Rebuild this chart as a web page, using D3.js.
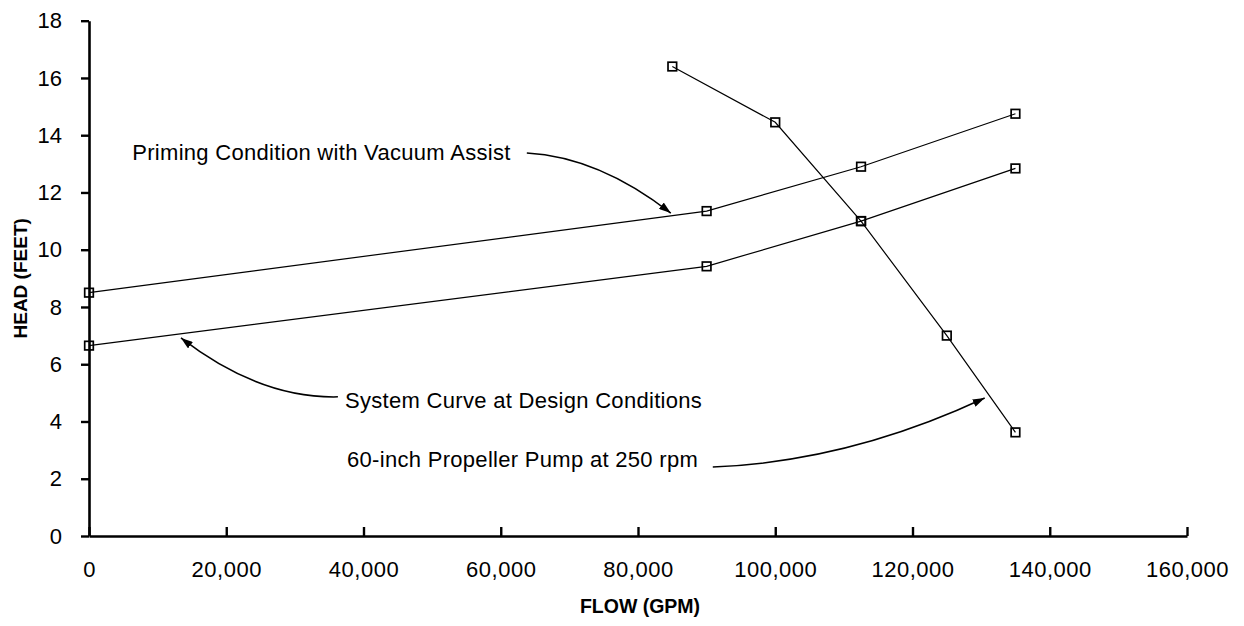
<!DOCTYPE html>
<html>
<head>
<meta charset="utf-8">
<script src="https://cdn.jsdelivr.net/npm/d3@7"></script>
<style>
  body { margin: 0; background: #fff; }
  text { font-family: "Liberation Sans", Arial, sans-serif; fill: #000; }
</style>
</head>
<body>
<div class="canvas"></div>
<script>
// series: flow (gpm) and head (feet)
const pumpFlow = [85000, 100000, 112500, 125000, 135000];
const pumpHead = [16.4, 14.45, 11.0, 7.0, 3.62];
const primingFlow = [0, 90000, 112500, 135000];
const primingHead = [8.5, 11.35, 12.9, 14.75];
const systemFlow = [0, 90000, 112500, 135000];
const systemHead = [6.65, 9.42, 11.0, 12.84];

const xTicks = [0, 20000, 40000, 60000, 80000, 100000, 120000, 140000, 160000];
const yTicks = [0, 2, 4, 6, 8, 10, 12, 14, 16, 18];

// callout labels, in data units: text start, arrow start / bend / tip
const noteText = ['Priming Condition with Vacuum Assist', 'System Curve at Design Conditions', '60-inch Propeller Pump at 250 rpm'];
const noteAt = [[6300, 13.13], [37300, 4.47], [37600, 2.41]];
const arrowFrom = [[63800, 13.38], [36270, 4.86], [90900, 2.41]];
const arrowBend = [[74290, 13.24], [24840, 4.80], [110710, 2.60]];
const arrowTo = [[84780, 11.28], [13400, 6.92], [130520, 4.82]];

function drawGraph() {
  const margin = { top: 20.7, right: 57, bottom: 90, left: 89 };
  const graphWidth = 1244 - margin.left - margin.right;
  const graphHeight = 626 - margin.top - margin.bottom;

  const svg = d3.select('.canvas')
    .append('svg')
    .attr('width', 1244)
    .attr('height', 626);

  svg.append('defs').append('marker')
    .attr('id', 'head')
    .attr('viewBox', '0 0 12 8')
    .attr('refX', 12).attr('refY', 4)
    .attr('markerWidth', 12).attr('markerHeight', 8)
    .attr('markerUnits', 'userSpaceOnUse')
    .attr('orient', 'auto')
    .append('path')
    .attr('d', 'M0,0 L12,4 L0,8 Z')
    .attr('fill', '#000');

  const graph = svg.append('g')
    .attr('transform', `translate(${margin.left}, ${margin.top})`);

  const x = d3.scaleLinear().domain([0, 160000]).range([0, graphWidth]);
  const y = d3.scaleLinear().domain([0, 18]).range([graphHeight, 0]);

  // axes
  const yAxis = graph.append('g')
    .call(d3.axisLeft(y).tickValues(yTicks).tickSize(8).tickSizeOuter(0).tickPadding(19));
  yAxis.selectAll('text').style('font-size', '22px');

  const xAxis = graph.append('g')
    .attr('transform', `translate(0, ${graphHeight})`)
    .call(d3.axisBottom(x).tickValues(xTicks).tickFormat(d3.format(',')).tickSize(-9).tickSizeOuter(0));
  xAxis.selectAll('text')
    .style('font-size', '22px')
    .attr('y', 41)
    .attr('dy', 0)
    .attr('letter-spacing', '0.5px');

  [yAxis, xAxis].forEach(a => {
    a.select('.domain').attr('stroke', '#000').attr('stroke-width', 2.6);
    a.selectAll('.tick line').attr('stroke', '#000').attr('stroke-width', 2.4);
  });

  // axis titles
  svg.append('text')
    .attr('x', margin.left + x(80000) + 2)
    .attr('y', 613)
    .attr('text-anchor', 'middle')
    .style('font-size', '19.5px')
    .style('font-weight', 'bold')
    .text('FLOW (GPM)');

  svg.append('text')
    .attr('transform', `translate(26.5, ${margin.top + graphHeight / 2}) rotate(-90)`)
    .attr('text-anchor', 'middle')
    .style('font-size', '19px')
    .style('font-weight', 'bold')
    .text('HEAD (FEET)');

  // series lines + square markers
  const line = d3.line().x(d => x(d[0])).y(d => y(d[1]));
  const series = [
    d3.zip(primingFlow, primingHead),
    d3.zip(systemFlow, systemHead),
    d3.zip(pumpFlow, pumpHead)
  ];

  series.forEach(pts => {
    graph.append('path')
      .datum(pts)
      .attr('d', line)
      .attr('fill', 'none')
      .attr('stroke', '#000')
      .attr('stroke-width', 1.2);

    graph.selectAll(null)
      .data(pts)
      .enter()
      .append('rect')
      .attr('x', d => x(d[0]) - 4.3)
      .attr('y', d => y(d[1]) - 4.3)
      .attr('width', 8.6)
      .attr('height', 8.6)
      .attr('fill', 'none')
      .attr('stroke', '#000')
      .attr('stroke-width', 1.7);
  });

  // callouts
  noteText.forEach((t, i) => {
    graph.append('text')
      .attr('x', x(noteAt[i][0]))
      .attr('y', y(noteAt[i][1]))
      .style('font-size', '22px')
      .attr('letter-spacing', '0.3px')
      .text(t);

    const p = d3.path();
    p.moveTo(x(arrowFrom[i][0]), y(arrowFrom[i][1]));
    p.quadraticCurveTo(x(arrowBend[i][0]), y(arrowBend[i][1]), x(arrowTo[i][0]), y(arrowTo[i][1]));
    graph.append('path')
      .attr('d', p.toString())
      .attr('fill', 'none')
      .attr('stroke', '#000')
      .attr('stroke-width', 1.5)
      .attr('marker-end', 'url(#head)');
  });
}

drawGraph();
</script>
</body>
</html>
